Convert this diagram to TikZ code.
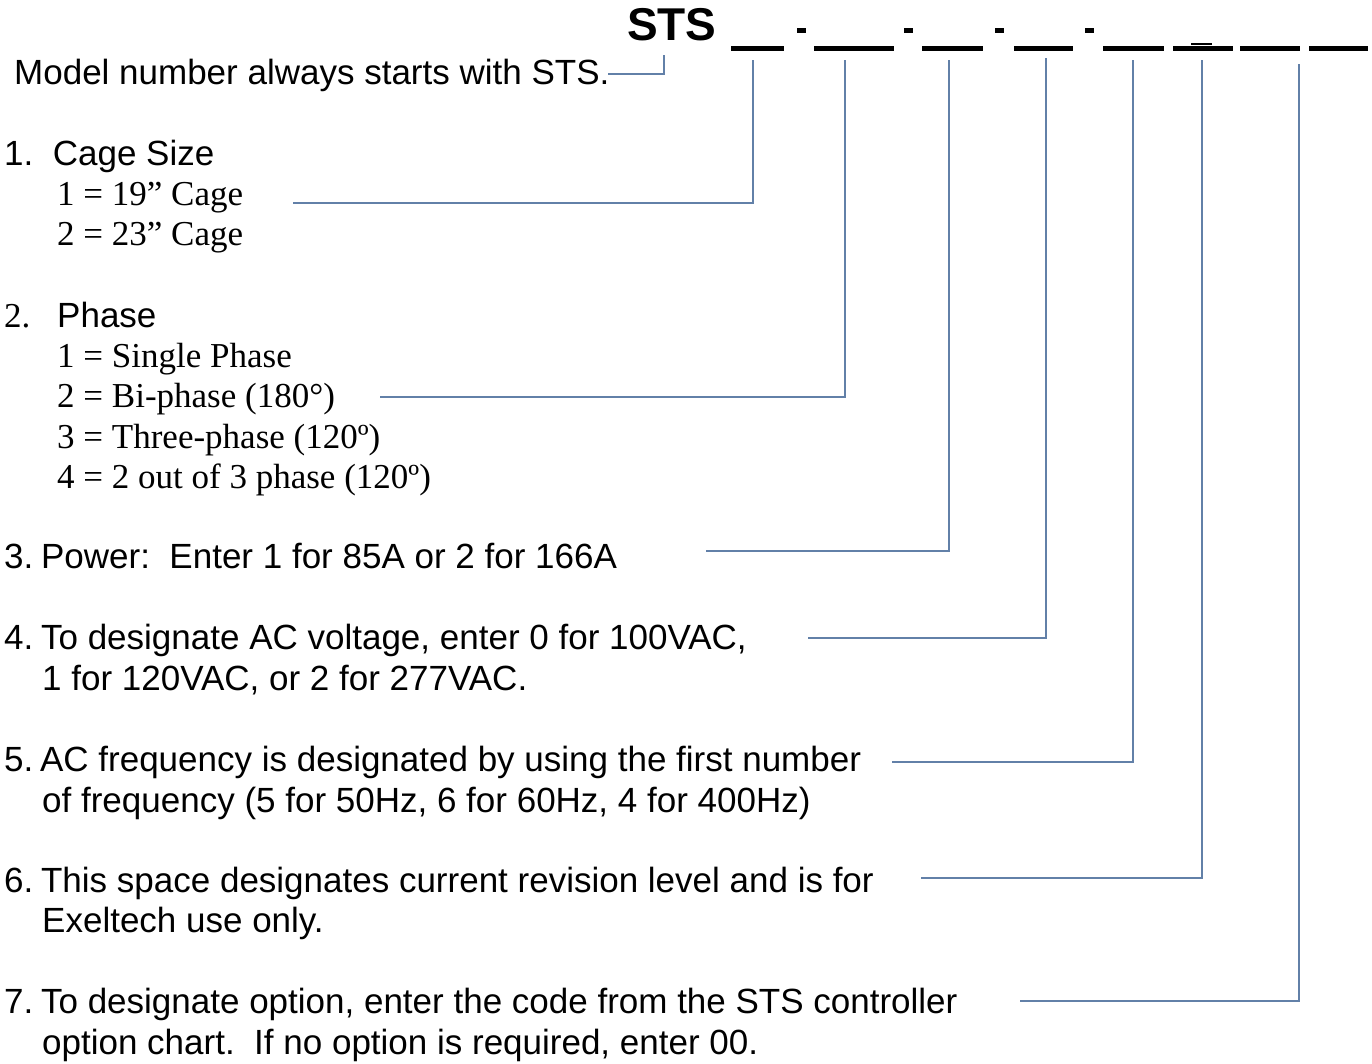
\documentclass[tikz,border=0pt]{standalone}
\usepackage{fontspec}
\setmainfont{Liberation Serif}
\newfontfamily\arialfont{Liberation Sans}
\definecolor{linkblue}{RGB}{98,128,168}

\begin{document}
\begin{tikzpicture}[x=1pt,y=-1pt,
    sans/.style={anchor=base west,inner sep=0pt,font=\arialfont\fontsize{35}{42}\selectfont},
    serif/.style={anchor=base west,inner sep=0pt,font=\fontsize{35}{42}\selectfont},
    blank/.style={fill=black,inner sep=0pt,minimum height=5pt},
    sep/.style={fill=black,inner sep=0pt,minimum width=9pt,minimum height=5pt},
    link/.style={draw=linkblue,line width=1.3pt}]
            \useasboundingbox (0,0) rectangle (1372,1063);

            % model number
            \node[anchor=base west,inner sep=0pt,font=\arialfont\bfseries\fontsize{46}{50}\selectfont] (sts) at (627,40) {STS};
            \node[blank,minimum width=53pt] (b1) at (757.5,48.5) {};
            \node[sep] (d1) at (801,30.5) {};
            \node[blank,minimum width=80pt] (b2) at (854,48.5) {};
            \node[sep] (d2) at (908.5,30.5) {};
            \node[blank,minimum width=61pt] (b3) at (952.5,48.5) {};
            \node[sep] (d3) at (999.5,30.5) {};
            \node[blank,minimum width=59pt] (b4) at (1043.5,48.5) {};
            \node[sep] (d4) at (1089.5,30.5) {};
            \node[blank,minimum width=61pt] (b5) at (1133.5,48.5) {};
            \node[blank,minimum width=60pt] (b6) at (1203,48.5) {};
            \node[blank,minimum width=21pt,minimum height=1.5pt] (b6r) at (1201.5,44) {};
            \node[blank,minimum width=60pt] (b7) at (1270,48.5) {};
            \node[blank,minimum width=59pt] (b8) at (1338.5,48.5) {};

            % descriptions
            \node[sans] (intro) at (14,84) {Model number always starts with STS.};
            \node[sans] (n1) at (4,165) {1.\ \ Cage Size};
            \node[serif] (c1) at (57,205) {1 = 19” Cage};
            \node[serif] (c2) at (57,245) {2 = 23” Cage};
            \node[serif] (n2) at (4,327) {2.};
            \node[sans] (ph) at (57,327) {Phase};
            \node[serif] (p1) at (57,367) {1 = Single Phase};
            \node[serif] (p2) at (57,407) {2 = Bi-phase (180°)};
            \node[serif] (p3) at (57,448) {3 = Three-phase (120º)};
            \node[serif] (p4) at (57,488) {4 = 2 out of 3 phase (120º)};
            \node[sans] (pw) at (4,568) {3.\kern-2pt\ Power:\ \ Enter 1 for 85A or 2 for 166A};
            \node[sans] (v1) at (4,649) {4.\kern-2pt\ To designate AC voltage, enter 0 for 100VAC,};
            \node[sans] (v2) at (42,690) {1 for 120VAC, or 2 for 277VAC.};
            \node[sans] (f1) at (4,771) {5.\kern-3pt\ AC frequency is designated by using the first number};
            \node[sans] (f2) at (42,812) {of frequency (5 for 50Hz, 6 for 60Hz, 4 for 400Hz)};
            \node[sans] (r1) at (4,892) {6.\kern-2pt\ This space designates current revision level and is for};
            \node[sans] (r2) at (42,932) {Exeltech use only.};
            \node[sans] (o1) at (4,1013) {7.\kern-2pt\ To designate option, enter the code from the STS controller};
            \node[sans] (o2) at (42,1054) {option chart.\ \ If no option is required, enter 00.};

            % leader lines
            \coordinate (t0) at (664,55);   \coordinate (e0) at (608,74);
            \coordinate (t1) at (753,60);   \coordinate (e1) at (293,203);
            \coordinate (t2) at (845,60);   \coordinate (e2) at (380,397);
            \coordinate (t3) at (949,60);   \coordinate (e3) at (706,551);
            \coordinate (t4) at (1046,58);  \coordinate (e4) at (808,638);
            \coordinate (t5) at (1133,60);  \coordinate (e5) at (892,762);
            \coordinate (t6) at (1202,60);  \coordinate (e6) at (921,878);
            \coordinate (t7) at (1299,64);  \coordinate (e7) at (1020,1001);

            \draw[link] (t0) |- (e0);
            \draw[link] (t1) |- (e1);
            \draw[link] (t2) |- (e2);
            \draw[link] (t3) |- (e3);
            \draw[link] (t4) |- (e4);
            \draw[link] (t5) |- (e5);
            \draw[link] (t6) |- (e6);
            \draw[link] (t7) |- (e7);

        \end{tikzpicture}
\end{document}
